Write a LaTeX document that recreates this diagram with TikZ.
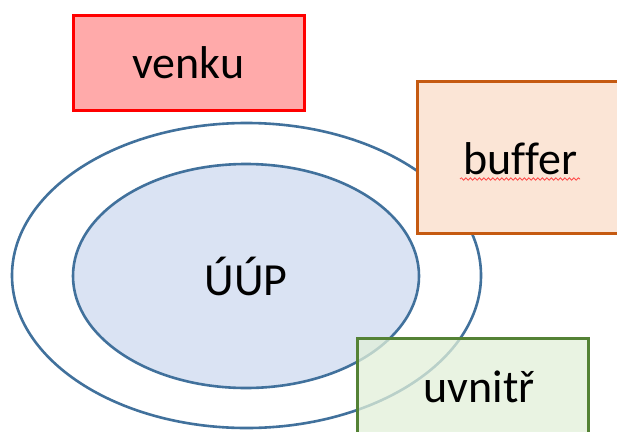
\documentclass[tikz,border=0pt]{standalone}
\usepackage{fontspec}
\setmainfont{Carlito}[Ligatures=NoCommon]
\usetikzlibrary{shapes.geometric,decorations.pathmorphing}
\definecolor{ellblue}{RGB}{65,113,156}
\definecolor{innerblue}{RGB}{218,227,243}
\definecolor{venkufill}{RGB}{255,170,170}
\definecolor{venkuline}{RGB}{255,0,0}
\definecolor{bufffill}{RGB}{251,229,214}
\definecolor{buffline}{RGB}{197,90,17}
\definecolor{uvfill}{RGB}{226,240,217}
\definecolor{uvline}{RGB}{84,130,53}
\definecolor{spellred}{RGB}{255,70,70}
\begin{document}
\begin{tikzpicture}[x=1pt,y=-1pt,
  every node/.style={font=\fontsize{46}{55}\selectfont, text=black, inner sep=0pt},
  ell/.style={ellipse, draw=ellblue, line width=2.6pt},
  boxnode/.style={rectangle, line width=3pt}]
\useasboundingbox (0,0) rectangle (617,431);
\clip (0,0) rectangle (617,431);
\fill[white] (0,0) rectangle (617,431);
\node[ell, fill=white, minimum width=469pt, minimum height=305pt] (outer) at (246.5,275.5) {};
\node[ell, fill=innerblue, minimum width=346pt, minimum height=224pt] (uup) at (246,276) {ÚÚP};
\node[boxnode, fill=bufffill, minimum width=260pt, minimum height=149pt, anchor=west] (bufferbox) at (417,157.5) {};
\draw[buffline, line width=3pt, line join=miter] (bufferbox.north east) -- (bufferbox.north west) -- (bufferbox.south west) -- (bufferbox.south east);
\node[anchor=base] (buffer) at (520.5,174) {buffer};
\coordinate (wavyA) at (460,179);
\coordinate (wavyB) at (580,179);
\draw[spellred, line width=0.8pt, decorate, decoration={snake, amplitude=1.2pt, segment length=4.5pt}] (wavyA) -- (wavyB);
\node[boxnode, draw=uvline, fill=uvfill, fill opacity=0.75, draw opacity=1, minimum width=231pt, minimum height=100pt] (uvnitrbox) at (472.5,388) {};
\node[anchor=base] (uvnitr) at (479,402) {uvnitř};
\node[boxnode, draw=venkuline, fill=venkufill, minimum width=231pt, minimum height=95pt] (venku) at (188.5,63) {venku};
\end{tikzpicture}
\end{document}
